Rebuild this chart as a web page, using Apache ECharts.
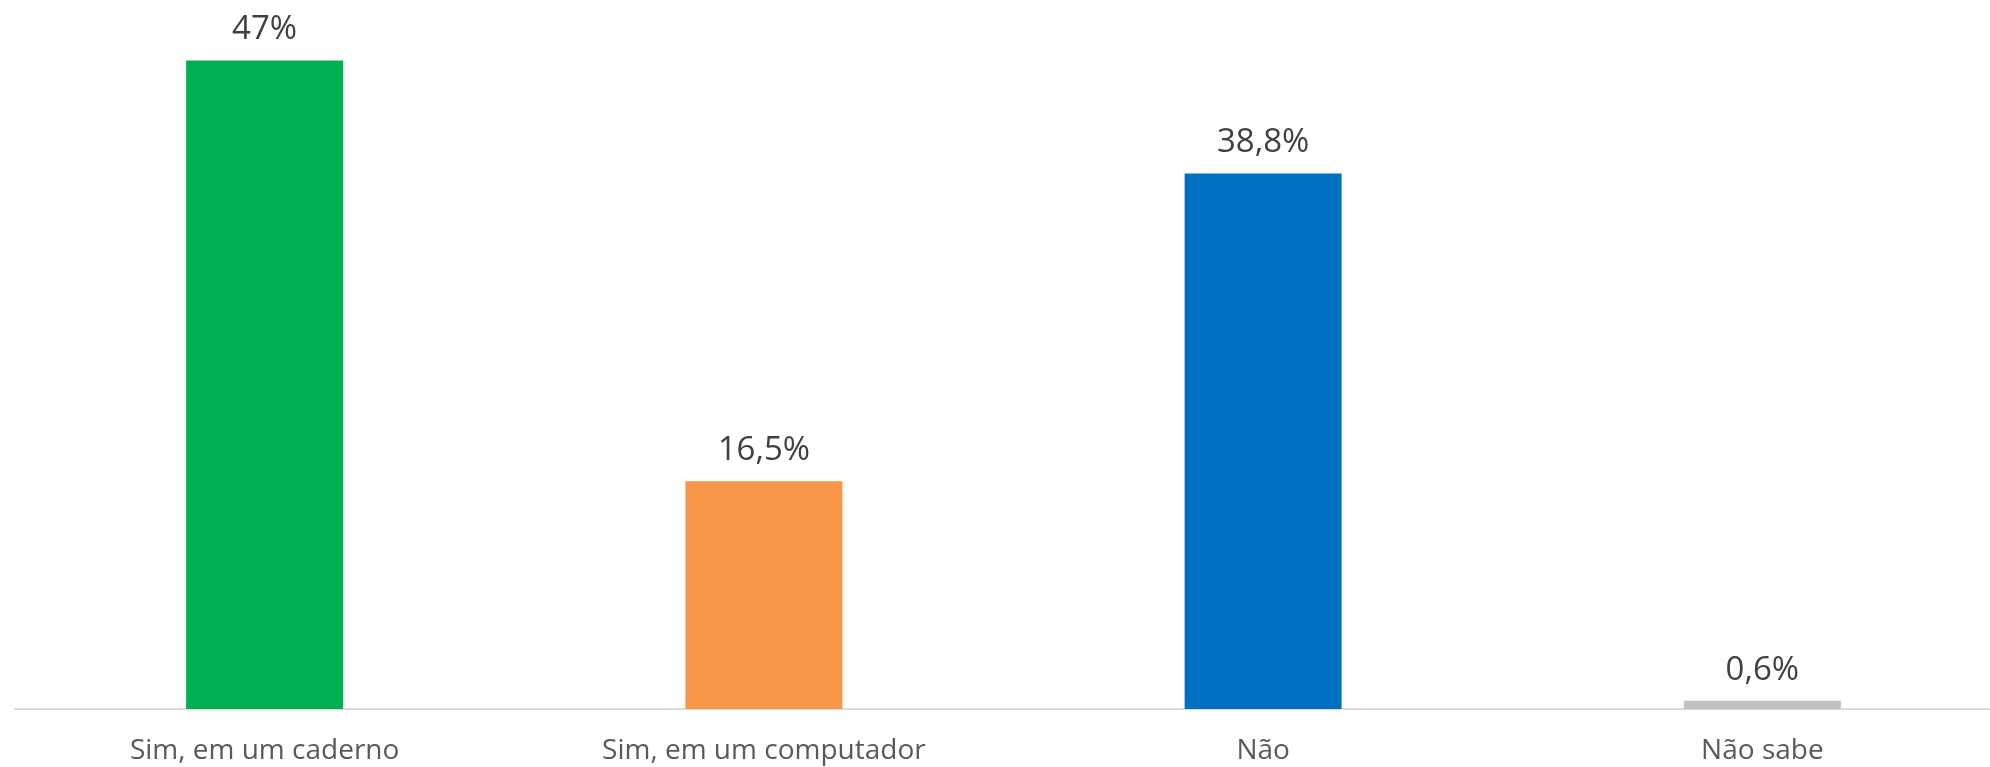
<!DOCTYPE html>
<html>
<head>
<meta charset="utf-8">
<script src="https://cdn.jsdelivr.net/npm/echarts@6/dist/echarts.min.js"></script>
<style>
  html, body { margin: 0; padding: 0; background: #fff; overflow: hidden; }
  /* o gráfico original é cortado à direita: o eixo continua além da borda */
  #chart { width: 2012px; height: 767px; }
</style>
</head>
<body>
<div id="chart"></div>
<script>
// categorias e valores (%)
var categories = ['Sim, em um caderno', 'Sim, em um computador', 'Não', 'Não sabe']
var values = [47, 16.5, 38.8, 0.6]
var labels = ['47%', '16,5%', '38,8%', '0,6%']
var barColors = ['#00B050', '#F79646', '#0070C0', '#BFBFBF']

var chart = echarts.init(document.getElementById('chart'))
var option = {
  animation: false,
  textStyle: { fontFamily: 'Open Sans' },
  grid: {
    top: 19,
    left: 15,
    right: 0,
    bottom: 58,
    containLabel: false
  },
  xAxis: {
    type: 'category',
    data: categories,
    axisTick: { show: false },
    axisLine: { lineStyle: { color: '#D9D9D9', width: 2 } },
    axisLabel: {
      color: '#595959',
      fontSize: 28,
      fontFamily: 'Open Sans',
      margin: 28
    }
  },
  yAxis: {
    type: 'value',
    min: 0,
    max: 50,
    show: false,
    splitLine: { show: false }
  },
  series: [{
    type: 'bar',
    barWidth: 157,
    data: values.map(function (v, i) {
      return { value: v, itemStyle: { color: barColors[i] } }
    }),
    label: {
      show: true,
      position: 'top',
      distance: 14,
      color: '#404040',
      fontSize: 33,
      fontFamily: 'Open Sans',
      formatter: function (p) { return labels[p.dataIndex] }
    }
  }]
}
chart.setOption(option)
</script>
</body>
</html>
